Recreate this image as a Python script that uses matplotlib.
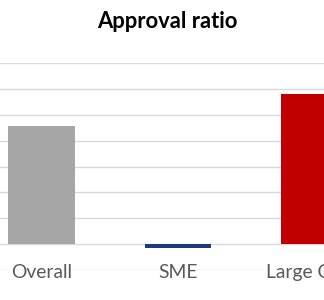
import matplotlib
matplotlib.use("Agg")
import matplotlib.pyplot as plt

categories = ["Overall", "SME", "Large Corp."]
values = [45.7, -1.5, 58.0]
colors = ["#a6a6a6", "#1f3a7a", "#c00000"]
title = "Approval ratio"

fig = plt.figure(figsize=(3.24, 3.00), dpi=100)
ax = fig.add_axes([0.0, 0.10, 1.0, 0.69])
x = list(range(len(categories)))
ax.bar(x, values, width=0.49, color=colors, zorder=3)
ax.set_ylim(-10, 70)
ax.set_yticks(range(-10, 71, 10))
ax.set_xlim(-41.5 / 136.5, (324 - 41.5) / 136.5)
ax.grid(axis="y", color="#d9d9d9", linewidth=1.0, zorder=0)
ax.tick_params(left=False, bottom=False, labelleft=False, labelbottom=False)
for s in ax.spines.values():
    s.set_visible(False)
for xi, lab in zip(x, categories):
    ax.text(xi, -11.0, lab, ha="center", va="center", fontsize=13.9,
            color="#595959", family="Lato", zorder=4)
fig.text(167 / 324, 1 - 22 / 300, title, ha="center", va="center",
         fontsize=15.8, fontweight="bold", family="Lato", color="black")
fig.savefig("out.png", dpi=100)
